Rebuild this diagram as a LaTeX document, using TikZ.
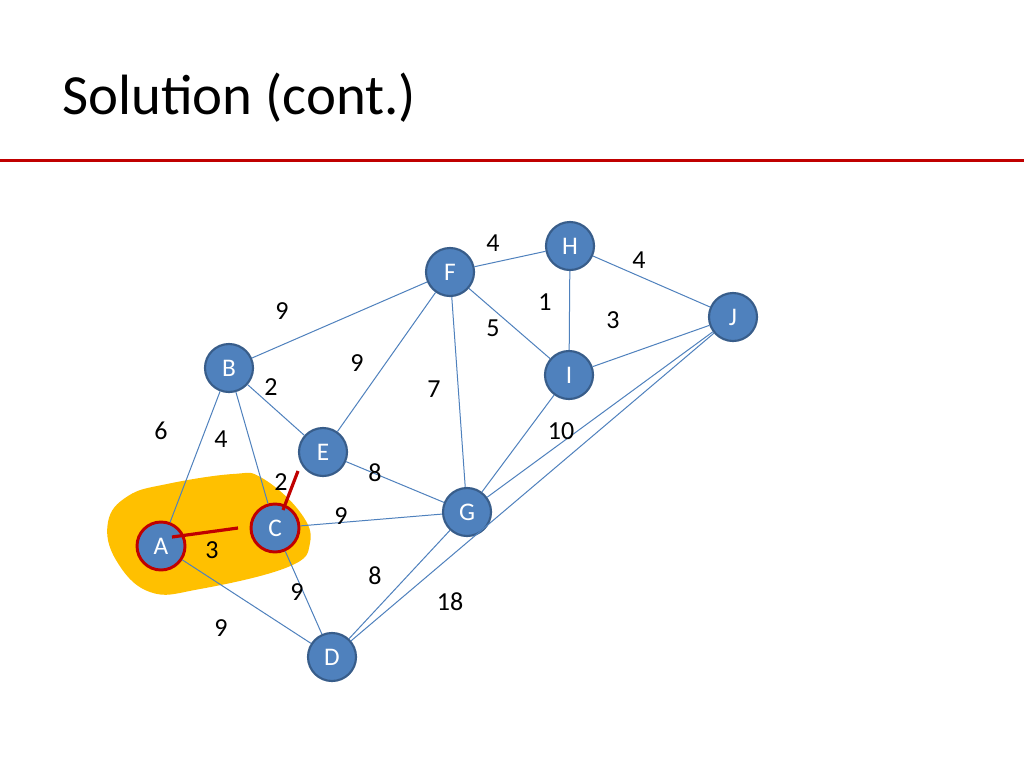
\documentclass[tikz,border=0pt]{standalone}
\usepackage{fontspec}
\setmainfont{Carlito}
\definecolor{nodefill}{RGB}{79,129,189}
\definecolor{nodeborder}{RGB}{56,93,138}
\definecolor{edgecol}{RGB}{79,129,189}
\definecolor{darkred}{RGB}{192,0,0}
\definecolor{blob}{RGB}{255,192,0}
\begin{document}
\begin{tikzpicture}[x=0.75pt,y=-0.75pt,
  vert/.style={circle,minimum size=36pt,inner sep=0pt,fill=nodefill,draw=nodeborder,line width=1.6pt,text=white,font=\fontsize{19}{21}\selectfont},
  chosen/.style={vert,draw=darkred,line width=2.2pt},
  edge/.style={draw=edgecol,line width=0.75pt},
  redge/.style={draw=darkred,line width=2.4pt},
  wlabel/.style={font=\fontsize{19.5}{21}\selectfont,inner sep=0pt}]
\useasboundingbox (0,0) rectangle (1024,768);
\fill[white] (0,0) rectangle (1024,768);
% title
\node[anchor=base west,inner sep=0pt,font=\fontsize{42.6}{46}\selectfont] (title) at (62,114) {Solution (cont.)};
\draw[darkred,line width=2.3pt] (0,160.5) coordinate (ls) -- (1024,160.5) coordinate (le);
% blob
\fill[blob] plot[smooth cycle,tension=0.7] coordinates {(108,522) (128,496) (167,484) (233,474) (262,478) (300,512) (310,543) (288,567) (200,589) (150,592) (116,560)};
% nodes
\node[vert] (H) at (570,246) {H};
\node[vert] (F) at (450,272) {F};
\node[vert] (J) at (733,317) {J};
\node[vert] (B) at (229,368) {B};
\node[vert] (I) at (569,375) {I};
\node[vert] (E) at (323,452) {E};
\node[vert] (G) at (467,512) {G};
\node[chosen] (C) at (275,528) {C};
\node[chosen] (A) at (161,546) {A};
\node[vert] (D) at (332,657) {D};
% edges
\draw[edge] (F) -- (H);
\draw[edge] (H) -- (J);
\draw[edge] (F) -- (B);
\draw[edge] (F) -- (E);
\draw[edge] (F) -- (I);
\draw[edge] (F) -- (G);
\draw[edge] (H) -- (I);
\draw[edge] (I) -- (J);
\draw[edge] (I) -- (G);
\draw[edge] (J) -- (G);
\draw[edge] (J) -- (D);
\draw[edge] (B) -- (E);
\draw[edge] (B) -- (A);
\draw[edge] (B) -- (C);
\draw[edge] (E) -- (G);
\draw[edge] (C) -- (G);
\draw[edge] (C) -- (D);
\draw[edge] (A) -- (D);
\draw[edge] (G) -- (D);
% chosen edges
\coordinate (ac1) at (172,537);
\coordinate (ac2) at (238,528);
\coordinate (ec1) at (298,471);
\coordinate (ec2) at (283,510);
\draw[redge] (ac1) -- (ac2);
\draw[redge] (ec1) -- (ec2);
% weights
\node[wlabel] (w1) at (493,243) {4};
\node[wlabel] (w2) at (639,260) {4};
\node[wlabel] (w3) at (282,311) {9};
\node[wlabel] (w4) at (545,302) {1};
\node[wlabel] (w5) at (613,320) {3};
\node[wlabel] (w6) at (493,328) {5};
\node[wlabel] (w7) at (357,363) {9};
\node[wlabel] (w8) at (271,387) {2};
\node[wlabel] (w9) at (434,389) {7};
\node[wlabel] (w10) at (161,431) {6};
\node[wlabel] (w11) at (221,439) {4};
\node[wlabel] (w12) at (561,431) {10};
\node[wlabel] (w13) at (375,473) {8};
\node[wlabel] (w14) at (281,482) {2};
\node[wlabel] (w15) at (341,516) {9};
\node[wlabel] (w16) at (212,550) {3};
\node[wlabel] (w17) at (375,576) {8};
\node[wlabel] (w18) at (297,592) {9};
\node[wlabel] (w19) at (450,602) {18};
\node[wlabel] (w20) at (221,628) {9};
\end{tikzpicture}
\end{document}
